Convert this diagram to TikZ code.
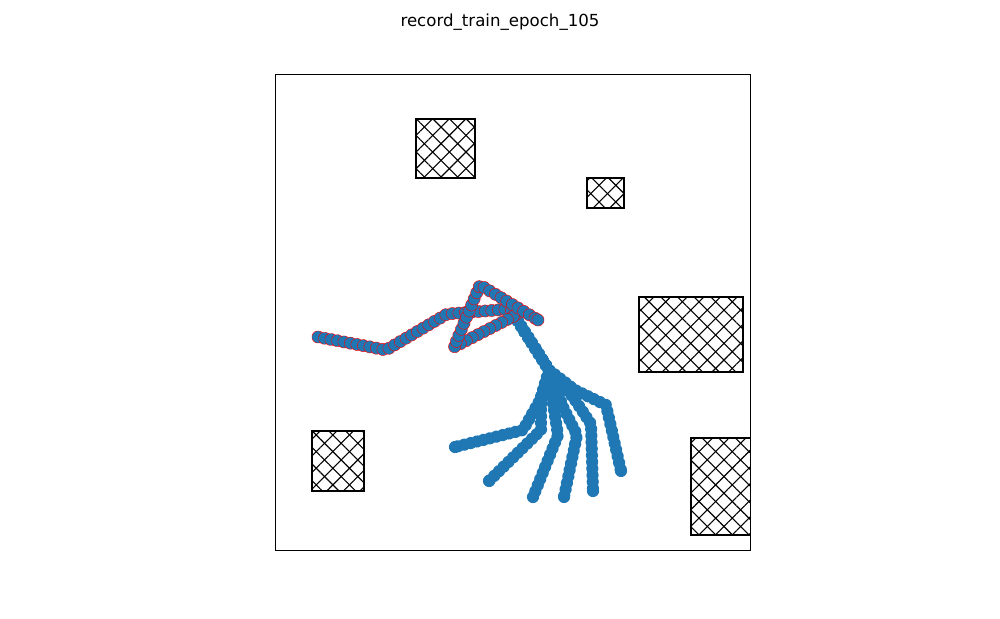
\documentclass[tikz,border=0pt]{standalone}
\usepackage{fontspec}
\setmainfont{DejaVu Sans}
\usetikzlibrary{decorations.markings,patterns.meta}
\definecolor{trajblue}{HTML}{1F77B4}

\tikzset{
  plaindot/.style={fill=trajblue},
  recdot/.style={fill=trajblue, draw=red, line width=0.3pt},
  dotsalong/.style={decorate, decoration={markings,
      mark=between positions 0 and 1 step 0.066in with {\path[#1] (0,0) circle (0.061in);},
      mark=at position 1 with {\path[#1] (0,0) circle (0.061in);}}},
  obstacle/.style={draw=black, line width=1.9pt,
      preaction={pattern={Lines[angle=45,distance=8.5pt,line width=0.8pt]}},
      preaction={pattern={Lines[angle=-45,distance=8.5pt,line width=0.8pt]}}}
}

\begin{document}
\begin{tikzpicture}[x=0.01in, y=-0.01in]
\useasboundingbox (0,0) rectangle (1000,618);

% title
\node[anchor=base, font=\fontsize{12}{14}\selectfont, inner sep=0pt] (title) at (500,26) {record\_train\_epoch\_105};

% obstacles
\begin{scope}
  \clip (275,74) rectangle (750,550);
  \path[obstacle] (416,119) rectangle (475,178);
  \path[obstacle] (587,178) rectangle (624,208);
  \path[obstacle] (639,297) rectangle (743,372);
  \path[obstacle] (691,438) rectangle (770,535);
  \path[obstacle] (312,431) rectangle (364,491);
\end{scope}

% other trajectories
\coordinate (start) at (514,315);
\coordinate (fork) at (549,370);
\path[dotsalong=plaindot] (start) -- (fork) -- (540,400) -- (523,430) -- (455,447);
\path[dotsalong=plaindot] (start) -- (fork) -- (541,405) -- (541,430) -- (489,481);
\path[dotsalong=plaindot] (start) -- (fork) -- (553,403) -- (558,435) -- (533,497);
\path[dotsalong=plaindot] (start) -- (fork) -- (563,407) -- (577,435) -- (564,497);
\path[dotsalong=plaindot] (start) -- (fork) -- (573,397) -- (591,424) -- (593,491);
\path[dotsalong=plaindot] (start) -- (fork) -- (575,390) -- (606,405) -- (621,471);

% recorded trajectory
\path[dotsalong=recdot] (318,337) -- (386,350) -- (447,314) -- (510,309) -- (518,314)
  -- (454,347) -- (480,285) -- (538,320);

% axes frame
\draw[line width=0.6pt] (275,74) rectangle (750,550);
\end{tikzpicture}
\end{document}
